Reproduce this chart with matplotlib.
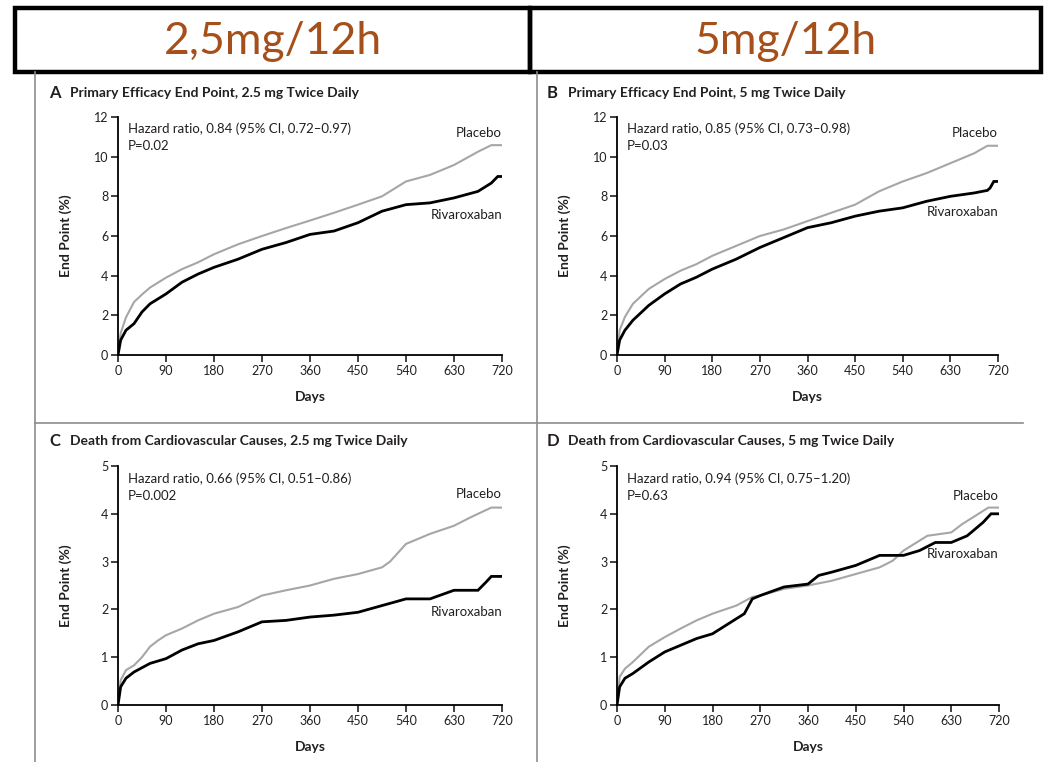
#!/usr/bin/env python3
"""Kaplan-Meier style panels: rivaroxaban 2.5 mg vs 5 mg twice daily."""
import matplotlib
matplotlib.use("Agg")
import matplotlib.pyplot as plt
from matplotlib.patches import Rectangle
from matplotlib.lines import Line2D

plt.rcParams["font.family"] = ["Lato", "DejaVu Sans"]

W, H = 1044, 762

HEADERS = ["2,5mg/12h", "5mg/12h"]
TITLES = [("A", "Primary Efficacy End Point, 2.5 mg Twice Daily"),
          ("B", "Primary Efficacy End Point, 5 mg Twice Daily"),
          ("C", "Death from Cardiovascular Causes, 2.5 mg Twice Daily"),
          ("D", "Death from Cardiovascular Causes, 5 mg Twice Daily")]
HR_TEXT = ["Hazard ratio, 0.84 (95% CI, 0.72\u20130.97)\nP=0.02",
           "Hazard ratio, 0.85 (95% CI, 0.73\u20130.98)\nP=0.03",
           "Hazard ratio, 0.66 (95% CI, 0.51\u20130.86)\nP=0.002",
           "Hazard ratio, 0.94 (95% CI, 0.75\u20131.20)\nP=0.63"]
X_TICKS = [0, 90, 180, 270, 360, 450, 540, 630, 720]
Y_TICKS_EFF = [0, 2, 4, 6, 8, 10, 12]
Y_TICKS_CV = [0, 1, 2, 3, 4, 5]

# panel A
A_DAYS = [0, 5, 15, 30, 45, 60, 90, 120, 150, 180, 225, 270, 315, 360, 405,
          450, 495, 540, 585, 630, 675, 700, 712, 720]
A_PLA = [0, 1.1, 1.9, 2.67, 3.05, 3.4, 3.9, 4.33, 4.67, 5.08, 5.58, 6.0, 6.4,
         6.78, 7.17, 7.58, 8.0, 8.75, 9.08, 9.58, 10.25, 10.58, 10.58, 10.58]
A_RIV = [0, 0.75, 1.25, 1.58, 2.17, 2.58, 3.08, 3.67, 4.08, 4.42, 4.83, 5.33,
         5.67, 6.08, 6.25, 6.67, 7.25, 7.58, 7.67, 7.92, 8.25, 8.67, 9.0, 9.0]

# panel B
B_DAYS = [0, 5, 15, 30, 60, 90, 120, 150, 180, 225, 270, 315, 360, 405, 450,
          495, 540, 585, 630, 675, 700, 705, 712, 720]
B_PLA = [0, 1.25, 1.92, 2.58, 3.33, 3.83, 4.25, 4.58, 5.0, 5.5, 6.0, 6.33,
         6.75, 7.17, 7.58, 8.25, 8.75, 9.17, 9.67, 10.17, 10.55, 10.55, 10.55, 10.55]
B_RIV = [0, 0.75, 1.25, 1.75, 2.5, 3.08, 3.58, 3.92, 4.33, 4.83, 5.42, 5.92,
         6.42, 6.67, 7.0, 7.25, 7.42, 7.75, 8.0, 8.17, 8.3, 8.42, 8.75, 8.75]

# panel C
C_PLA_DAYS = [0, 5, 15, 30, 45, 60, 75, 90, 120, 150, 180, 225, 270, 315, 360,
              405, 450, 495, 510, 540, 585, 630, 660, 675, 700, 720]
C_PLA = [0, 0.52, 0.73, 0.83, 1.0, 1.22, 1.35, 1.46, 1.6, 1.77, 1.91, 2.05,
         2.29, 2.4, 2.5, 2.64, 2.74, 2.88, 3.0, 3.37, 3.58, 3.75, 3.92, 4.0,
         4.13, 4.13]
C_RIV_DAYS = [0, 5, 15, 30, 60, 90, 120, 150, 180, 225, 270, 315, 360, 405,
              450, 495, 540, 585, 630, 675, 690, 700, 720]
C_RIV = [0, 0.38, 0.56, 0.69, 0.87, 0.97, 1.15, 1.28, 1.35, 1.53, 1.74, 1.77,
         1.84, 1.88, 1.94, 2.08, 2.22, 2.22, 2.4, 2.4, 2.57, 2.69, 2.69]

# panel D
D_PLA_DAYS = [0, 5, 15, 30, 60, 90, 120, 150, 180, 225, 255, 270, 315, 360,
              405, 450, 495, 520, 540, 585, 630, 650, 680, 700, 720]
D_PLA = [0, 0.59, 0.76, 0.9, 1.22, 1.42, 1.6, 1.77, 1.91, 2.08, 2.26, 2.29,
         2.43, 2.5, 2.6, 2.74, 2.88, 3.02, 3.23, 3.54, 3.61, 3.78, 3.99, 4.13, 4.13]
D_RIV_DAYS = [0, 5, 15, 30, 60, 90, 120, 150, 180, 210, 240, 255, 270, 315,
              360, 380, 405, 450, 495, 540, 570, 600, 630, 660, 675, 690, 705, 720]
D_RIV = [0, 0.38, 0.56, 0.66, 0.9, 1.11, 1.25, 1.39, 1.49, 1.7, 1.91, 2.22,
         2.29, 2.47, 2.53, 2.71, 2.78, 2.92, 3.13, 3.13, 3.23, 3.4, 3.4, 3.54,
         3.68, 3.82, 4.0, 4.0]

PANELS = [
    (A_DAYS, A_PLA, A_DAYS, A_RIV, 12, Y_TICKS_EFF, 11.2, 7.06),
    (B_DAYS, B_PLA, B_DAYS, B_RIV, 12, Y_TICKS_EFF, 11.2, 7.2),
    (C_PLA_DAYS, C_PLA, C_RIV_DAYS, C_RIV, 5, Y_TICKS_CV, 4.41, 1.95),
    (D_PLA_DAYS, D_PLA, D_RIV_DAYS, D_RIV, 5, Y_TICKS_CV, 4.37, 3.16),
]

# axes boxes in pixels: left, right, top, bottom
AX_PX = [(118, 502, 117, 355), (617, 998, 117, 355),
         (118, 502, 466, 705), (617, 999, 466, 705)]
TITLE_PX = [(49, 93), (547, 93), (49, 441), (547, 441)]

HEADER_COLOR = "#A5501A"
TEXT_COLOR = "#231f20"


def fx(x):
    return x / W


def fy(y):
    return 1 - y / H


def main():
    fig = plt.figure(figsize=(W / 100, H / 100), dpi=100)
    fig.patch.set_facecolor("white")

    # gray frame lines between panels
    for xs, ys in [((35, 35), (72, 762)), ((537, 537), (72, 762)),
                   ((35, 1023), (423, 423))]:
        fig.add_artist(Line2D([fx(xs[0]), fx(xs[1])], [fy(ys[0]), fy(ys[1])],
                              color="#8c8c8c", lw=1.2))

    # header boxes
    for (x0, x1), label in zip([(15, 530), (530, 1041)], HEADERS):
        fig.add_artist(Rectangle((fx(x0), fy(72)), fx(x1 - x0), (72 - 8) / H,
                                 fill=False, ec="black", lw=3.2))
        fig.text(fx((x0 + x1) / 2), fy(41), label, ha="center", va="center",
                 fontsize=32, color=HEADER_COLOR)

    for i, (pd_, pla, rd, riv, ymax, yt, ply, rvy) in enumerate(PANELS):
        l, r, t, b = AX_PX[i]
        ax = fig.add_axes([fx(l), fy(b), fx(r - l), (b - t) / H])
        ax.plot(pd_, pla, color="#a6a6a6", lw=1.5, solid_joinstyle="miter")
        ax.plot(rd, riv, color="black", lw=2.0, solid_joinstyle="miter")
        ax.set_xlim(0, 720)
        ax.set_ylim(0, ymax)
        ax.set_xticks(X_TICKS)
        ax.set_yticks(yt)
        for s in ("top", "right"):
            ax.spines[s].set_visible(False)
        for s in ("left", "bottom"):
            ax.spines[s].set_linewidth(1.3)
        ax.tick_params(direction="out", length=5, width=1.2, labelsize=9,
                       colors=TEXT_COLOR, pad=2)
        ax.set_xlabel("Days", fontsize=10, fontweight="bold", color=TEXT_COLOR)
        ax.xaxis.set_label_coords(0.5, -36 / (b - t))
        ax.set_ylabel("End Point (%)", fontsize=10, fontweight="bold",
                      color=TEXT_COLOR)
        ax.yaxis.set_label_coords(-46 / (r - l), 0.5)
        ax.text(0.026, 0.975, HR_TEXT[i], transform=ax.transAxes, va="top",
                ha="left", fontsize=9.5, color=TEXT_COLOR, linespacing=1.5)
        ax.text(720, ply, "Placebo", ha="right", va="center", fontsize=9.5,
                color=TEXT_COLOR)
        ax.text(720, rvy, "Rivaroxaban", ha="right", va="center", fontsize=9.5,
                color=TEXT_COLOR)

        letter, title = TITLES[i]
        tx, ty = TITLE_PX[i]
        fig.text(fx(tx), fy(ty), letter, ha="left", va="center", fontsize=12,
                 fontweight="bold", color=TEXT_COLOR)
        fig.text(fx(tx + 21), fy(ty), title, ha="left", va="center",
                 fontsize=10, fontweight="bold", color=TEXT_COLOR)

    fig.savefig("out.png", dpi=100)
    plt.close(fig)


if __name__ == "__main__":
    main()
